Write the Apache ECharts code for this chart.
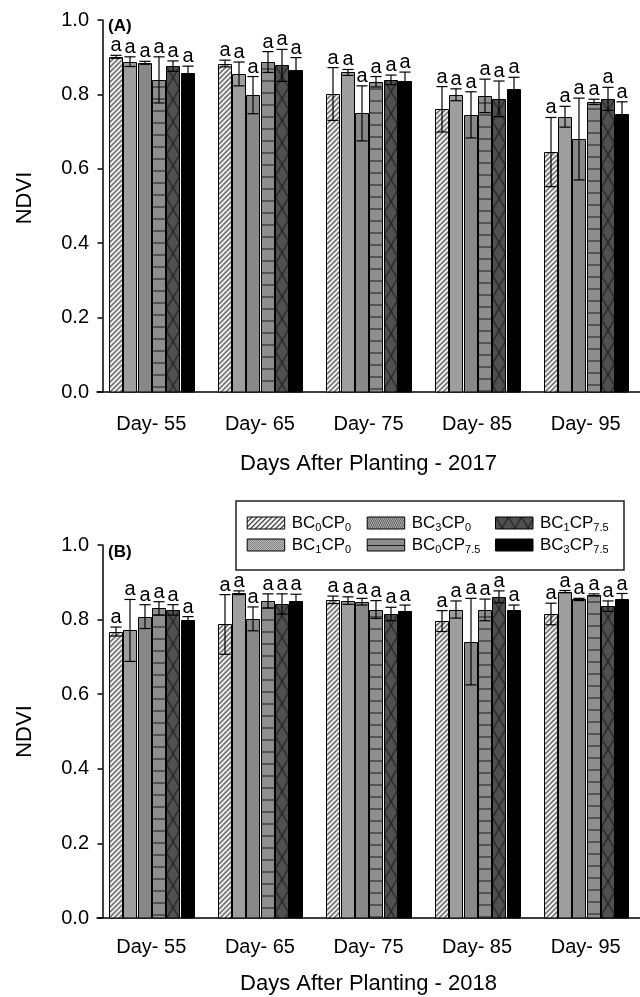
<!DOCTYPE html>
<html><head><meta charset="utf-8">
<script src="https://cdn.jsdelivr.net/npm/echarts@6/dist/echarts.min.js"></script>
<style>html,body{margin:0;padding:0;background:#fff}#c{width:640px;height:997px}</style>
</head><body><div id="c"></div>
<script>
const categories = ['Day- 55', 'Day- 65', 'Day- 75', 'Day- 85', 'Day- 95'];
const treatments = ['BC0CP0', 'BC1CP0', 'BC3CP0', 'BC0CP7.5', 'BC1CP7.5', 'BC3CP7.5'];
const yTicks = [0, 0.2, 0.4, 0.6, 0.8, 1.0];
const sigLetter = 'a';

// 2017 means and errors per treatment (across Day 55..95)
const mean2017_BC0CP0   = [0.901, 0.883, 0.801, 0.760, 0.645];
const mean2017_BC1CP0   = [0.888, 0.855, 0.859, 0.799, 0.740];
const mean2017_BC3CP0   = [0.885, 0.798, 0.749, 0.745, 0.680];
const mean2017_BC0CP75  = [0.839, 0.887, 0.834, 0.796, 0.780];
const mean2017_BC1CP75  = [0.876, 0.878, 0.839, 0.788, 0.788];
const mean2017_BC3CP75  = [0.858, 0.866, 0.836, 0.815, 0.746];
const err2017_BC0CP0    = [0.004, 0.009, 0.071, 0.061, 0.093];
const err2017_BC1CP0    = [0.013, 0.032, 0.008, 0.016, 0.028];
const err2017_BC3CP0    = [0.004, 0.050, 0.074, 0.062, 0.110];
const err2017_BC0CP75   = [0.062, 0.028, 0.014, 0.045, 0.007];
const err2017_BC1CP75   = [0.014, 0.043, 0.013, 0.048, 0.031];
const err2017_BC3CP75   = [0.018, 0.033, 0.024, 0.031, 0.034];

// 2018
const mean2018_BC0CP0   = [0.768, 0.787, 0.853, 0.796, 0.815];
const mean2018_BC1CP0   = [0.771, 0.872, 0.851, 0.827, 0.875];
const mean2018_BC3CP0   = [0.808, 0.802, 0.848, 0.741, 0.854];
const mean2018_BC0CP75  = [0.830, 0.850, 0.827, 0.826, 0.866];
const mean2018_BC1CP75  = [0.826, 0.842, 0.815, 0.861, 0.836];
const mean2018_BC3CP75  = [0.799, 0.850, 0.824, 0.826, 0.854];
const err2018_BC0CP0    = [0.012, 0.080, 0.010, 0.028, 0.029];
const err2018_BC1CP0    = [0.083, 0.005, 0.010, 0.023, 0.003];
const err2018_BC3CP0    = [0.032, 0.032, 0.009, 0.116, 0.003];
const err2018_BC0CP75   = [0.018, 0.019, 0.024, 0.029, 0.003];
const err2018_BC1CP75   = [0.014, 0.027, 0.018, 0.016, 0.014];
const err2018_BC3CP75   = [0.009, 0.018, 0.015, 0.013, 0.016];

const means2017 = [mean2017_BC0CP0, mean2017_BC1CP0, mean2017_BC3CP0, mean2017_BC0CP75, mean2017_BC1CP75, mean2017_BC3CP75];
const errs2017  = [err2017_BC0CP0, err2017_BC1CP0, err2017_BC3CP0, err2017_BC0CP75, err2017_BC1CP75, err2017_BC3CP75];
const means2018 = [mean2018_BC0CP0, mean2018_BC1CP0, mean2018_BC3CP0, mean2018_BC0CP75, mean2018_BC1CP75, mean2018_BC3CP75];
const errs2018  = [err2018_BC0CP0, err2018_BC1CP0, err2018_BC3CP0, err2018_BC0CP75, err2018_BC1CP75, err2018_BC3CP75];

const FONT = '"Liberation Sans", Arial, Helvetica, sans-serif';

function mk(w, h, draw) {
  const c = document.createElement('canvas');
  c.width = w; c.height = h;
  draw(c.getContext('2d'));
  return { image: c, repeat: 'repeat' };
}
const fills = [
  mk(5, 5, ctx => { ctx.fillStyle = '#fff'; ctx.fillRect(0, 0, 5, 5); ctx.strokeStyle = '#111'; ctx.lineWidth = 1.1;
    ctx.beginPath(); ctx.moveTo(-1, 6); ctx.lineTo(6, -1); ctx.moveTo(-1, 1); ctx.lineTo(1, -1); ctx.moveTo(4, 6); ctx.lineTo(6, 4); ctx.stroke(); }),
  mk(2, 2, ctx => { ctx.fillStyle = '#d2d2d2'; ctx.fillRect(0, 0, 2, 2); ctx.fillStyle = '#6a6a6a'; ctx.fillRect(0, 0, 1, 1); ctx.fillRect(1, 1, 1, 1); }),
  mk(4, 4, ctx => { ctx.fillStyle = '#bcbcbc'; ctx.fillRect(0, 0, 4, 4); ctx.fillStyle = '#555';
    [[0,0],[2,0],[1,1],[3,1],[1,2],[3,2],[0,3],[2,3]].forEach(p => ctx.fillRect(p[0], p[1], 1, 1)); }),
  mk(16, 12, ctx => { ctx.fillStyle = '#8e8e8e'; ctx.fillRect(0, 0, 16, 12); ctx.fillStyle = '#1a1a1a'; ctx.fillRect(0, 6, 16, 1); }),
  mk(13, 22, ctx => { ctx.fillStyle = '#505050'; ctx.fillRect(0, 0, 13, 22); ctx.strokeStyle = '#111'; ctx.lineWidth = 1;
    ctx.beginPath(); ctx.moveTo(0, 0); ctx.lineTo(13, 22); ctx.moveTo(13, 0); ctx.lineTo(0, 22); ctx.stroke(); }),
  '#000'
];

const BAR_FRAC = 0.1165, GAP_FRAC = 0.0156;
function makeRender(idx) {
  return function (params, api) {
    const ci = api.value(0), v = api.value(1), e = api.value(2);
    const bw = api.size([1, 0])[0];
    const barW = bw * BAR_FRAC, gap = bw * GAP_FRAC;
    const groupW = 6 * barW + 5 * gap;
    const top = api.coord([ci, v]);
    const base = api.coord([ci, 0]);
    const x0 = Math.round(top[0] - groupW / 2 + idx * (barW + gap)) + 0.5;
    const y0 = Math.round(top[1]) + 0.5;
    const w = Math.round(barW);
    const xc = x0 + w / 2;
    const yHi = api.coord([ci, v + e])[1];
    const yLo = api.coord([ci, v - e])[1];
    const cap = w * 0.43;
    const ls = { stroke: '#000', lineWidth: 1.2 };
    return {
      type: 'group',
      children: [
        { type: 'rect', x: x0, y: y0, shape: { x: 0, y: 0, width: w, height: base[1] - y0 },
          style: { fill: fills[idx], stroke: '#000', lineWidth: 1 } },
        { type: 'line', shape: { x1: xc, y1: yHi, x2: xc, y2: yLo }, style: ls },
        { type: 'line', shape: { x1: xc - cap, y1: yHi, x2: xc + cap, y2: yHi }, style: ls },
        { type: 'line', shape: { x1: xc - cap, y1: yLo, x2: xc + cap, y2: yLo }, style: ls },
        { type: 'text', x: xc, y: yHi + 0.5,
          style: { text: sigLetter, font: '20px ' + FONT, fill: '#000', align: 'center', verticalAlign: 'bottom' } }
      ]
    };
  };
}

function buildSeries(means, errs, gi) {
  return treatments.map((name, idx) => ({
    type: 'custom', name: name, xAxisIndex: gi, yAxisIndex: gi,
    renderItem: makeRender(idx),
    itemStyle: { color: fills[idx], borderColor: '#000', borderWidth: 1 },
    encode: { x: 0, y: 1 },
    data: categories.map((c, i) => [i, means[idx][i], errs[idx][i]]),
    clip: false
  }));
}

function xAxis(gi, title, margin, gap) {
  return {
    type: 'category', gridIndex: gi, data: categories,
    axisLine: { lineStyle: { color: '#000', width: 1.5 } },
    axisTick: { alignWithLabel: true, length: 5, lineStyle: { color: '#000', width: 1.5 } },
    axisLabel: { fontSize: 20, color: '#000', fontFamily: FONT, margin: margin },
    name: title, nameLocation: 'middle', nameGap: gap,
    nameTextStyle: { fontSize: 22, color: '#000', fontFamily: FONT }
  };
}
function yAxis(gi, namePad) {
  return {
    type: 'value', gridIndex: gi, min: yTicks[0], max: yTicks[yTicks.length - 1], interval: 0.2,
    offset: -5.5,
    axisLine: { show: true, lineStyle: { color: '#000', width: 1.5 } },
    axisTick: { show: true, length: 5, lineStyle: { color: '#000', width: 1.5 } },
    splitLine: { show: false },
    axisLabel: { fontSize: 20, color: '#000', fontFamily: FONT, margin: 13.5, formatter: v => v.toFixed(1) },
    name: 'NDVI', nameLocation: 'middle', nameGap: 67,
    nameTextStyle: { fontSize: 22, color: '#000', fontFamily: FONT, padding: namePad }
  };
}

function legendFmt(name) {
  const m = name.match(/^BC(\d)CP(.+)$/);
  return '{n|BC}{s|' + m[1] + '}{n|CP}{s|' + m[2] + '}';
}
const legendText = {
  padding: [0, 0, 0, 2],
  rich: {
    n: { fontSize: 17, lineHeight: 20, color: '#000', fontFamily: FONT },
    s: { fontSize: 11, lineHeight: 11, verticalAlign: 'bottom', color: '#000', fontFamily: FONT }
  }
};
function legend(left, data) {
  return {
    orient: 'vertical', left: left, top: 514.5, padding: 0, itemGap: 3.5,
    itemWidth: 37.5, itemHeight: 12, icon: 'rect', selectedMode: false,
    data: data, formatter: legendFmt, textStyle: legendText,
    itemStyle: { borderColor: '#000', borderWidth: 1 }
  };
}

const chart = echarts.init(document.getElementById('c'), null, { renderer: 'canvas' });
chart.setOption({
  animation: false,
  backgroundColor: '#fff',
  grid: [
    { left: 97, top: 20, width: 544, height: 372 },
    { left: 97, top: 545, width: 544, height: 373 }
  ],
  xAxis: [xAxis(0, 'Days After Planting - 2017', 22, 61), xAxis(1, 'Days After Planting - 2018', 19, 55)],
  yAxis: [yAxis(0, [0, 0, 0, 16]), yAxis(1, 0)],
  legend: [
    legend(246.7, [treatments[0], treatments[1]]),
    legend(366.7, [treatments[2], treatments[3]]),
    legend(495, [treatments[4], treatments[5]])
  ],
  graphic: [
    { type: 'rect', z: -1, shape: { x: 236, y: 501, width: 388, height: 69 },
      style: { fill: '#fff', stroke: '#222', lineWidth: 1.5 } },
    { type: 'text', x: 108, y: 18, style: { text: '(A)', font: 'bold 17px ' + FONT, fill: '#000', verticalAlign: 'top' } },
    { type: 'text', x: 108, y: 544, style: { text: '(B)', font: 'bold 17px ' + FONT, fill: '#000', verticalAlign: 'top' } }
  ],
  series: buildSeries(means2017, errs2017, 0).concat(buildSeries(means2018, errs2018, 1))
});
</script></body></html>
